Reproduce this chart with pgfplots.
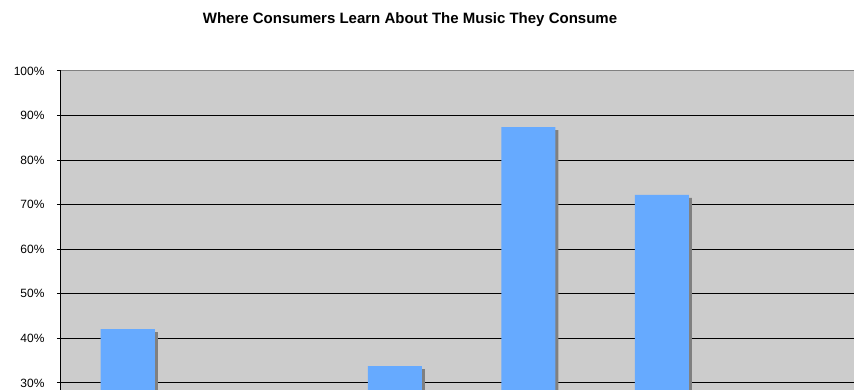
\documentclass[border=0pt]{standalone}
\usepackage{fontspec}
\setmainfont{Liberation Sans}
\usepackage{pgfplots}
\pgfplotsset{compat=1.18}
\definecolor{plotbg}{HTML}{CCCCCC}
\definecolor{barblue}{HTML}{66AAFF}
\definecolor{shadowgray}{HTML}{808080}
\begin{document}
\begin{tikzpicture}[x=1pt,y=1pt]
\useasboundingbox (0,0) rectangle (854,390);
\clip (0,0) rectangle (854,390);
\node[font=\bfseries\fontsize{15}{18}\selectfont] at (410,370) {Where Consumers Learn About The Music They Consume};
\begin{axis}[
  at={(61pt,-37.57pt)}, anchor=south west,
  scale only axis, width=801pt, height=356.6pt,
  xmin=-0.5, xmax=5.5, ymin=20, ymax=100,
  axis background/.style={fill=plotbg},
  axis x line=none,
  axis y line*=left,
  y axis line style={black, line width=1pt},
  ytick={20,30,...,90},
  extra y ticks={100},
  extra y tick style={grid style={shadowgray, line width=1pt}},
  ymajorgrids,
  grid style={black, line width=1pt},
  tick align=outside, major tick length=4pt,
  tick style={black, line width=1pt},
  yticklabel={\pgfmathprintnumber{\tick}\%},
  yticklabel style={font=\fontsize{12}{14}\selectfont, xshift=-9pt},
  /pgf/number format/assume math mode=true,
  ybar, bar width=54pt,
]
\addplot[fill=shadowgray, draw=none, bar shift=3pt, yshift=-3pt] coordinates {(0,42.1) (2,33.8) (3,87.4) (4,72.2)};
\addplot[fill=barblue, draw=none, bar shift=0pt] coordinates {(0,42.1) (2,33.8) (3,87.4) (4,72.2)};
\end{axis}
\end{tikzpicture}
\end{document}
